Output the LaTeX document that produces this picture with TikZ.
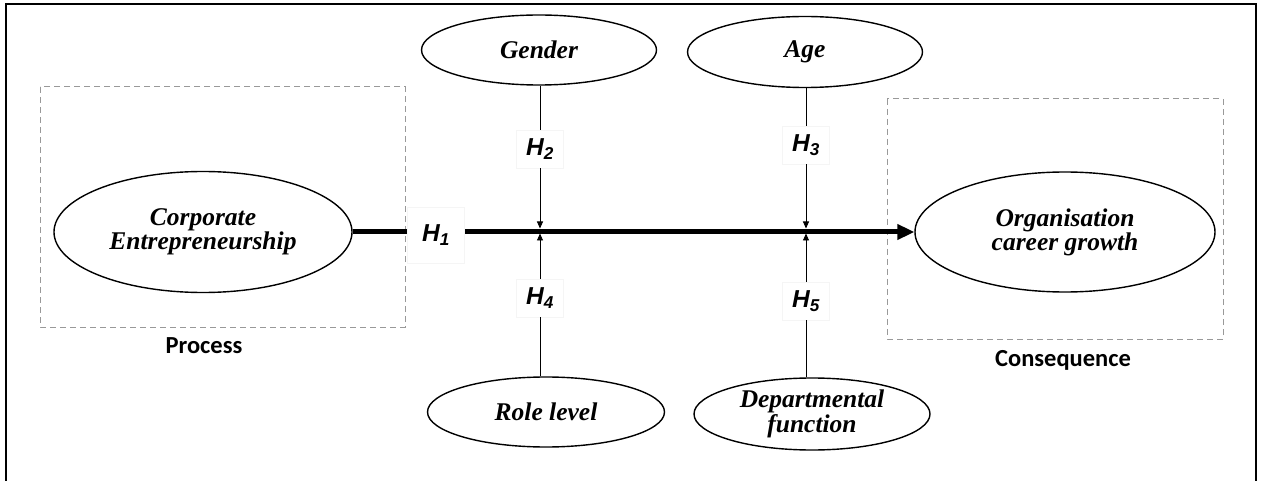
\documentclass[tikz,border=0pt]{standalone}
\usepackage{fontspec}
\setmainfont{Liberation Serif}
\newfontfamily\hfont{Liberation Sans}
\newfontfamily\lblfont{Carlito}
\usetikzlibrary{arrows.meta,shapes.geometric}
\begin{document}
\begin{tikzpicture}[x=1pt,y=-1pt,
  var/.style={ellipse, draw, line width=1.4pt, inner sep=0pt, align=center,
    font=\fontsize{25.5}{22}\selectfont\bfseries\itshape},
  hyp/.style={fill=white, draw=black!4, line width=0.5pt, inner sep=1pt,
    minimum width=47pt, minimum height=38pt,
    font=\fontsize{24.5}{26}\selectfont\hfont\bfseries\itshape},
  grp/.style={draw=black!40, dash pattern=on 6pt off 4pt, line width=1pt},
  glbl/.style={font=\fontsize{24.5}{26}\selectfont\lblfont\bfseries},
  mod/.style={line width=0.9pt, -{Triangle[length=7pt,width=6pt]}},
  link/.style={line width=0.9pt},
]
\useasboundingbox (0,0) rectangle (1264,481);
% outer frame
\draw[line width=2pt] (6,4) rectangle (1256,495);
% groups
\draw[grp] (40,87) rectangle (405,327);
\draw[grp] (887,99) rectangle (1223,339);
\node[glbl] (proc) at (204,346) {Process};
\node[glbl] (cons) at (1063,360) {Consequence};
% variables
\node[var, minimum width=298pt, minimum height=121pt] (ce) at (203,232) {Corporate\\Entrepreneurship};
\node[var, minimum width=300pt, minimum height=120pt] (ocg) at (1065,232) {Organisation\\career growth};
\node[var, minimum width=235pt, minimum height=70pt] (gender) at (539,50) {Gender};
\node[var, minimum width=235pt, minimum height=71pt] (age) at (805,52) {Age};
\node[var, minimum width=237pt, minimum height=70pt] (role) at (546,412) {Role level};
\node[var, minimum width=236pt, minimum height=72pt] (dept) at (812,414) {Departmental\\function};
% junctions
\coordinate (j2) at (540,231);
\coordinate (j3) at (806,231);
% main path
\draw[line width=5pt, -{Triangle[length=17pt,width=15pt]}] (ce.east) -- (ocg.west);
\node[hyp, minimum width=57pt, minimum height=56pt] (h1) at (436,235) {H\textsubscript{1}};
% moderators
\node[hyp] (h2) at (540,149) {H\textsubscript{2}};
\node[hyp] (h3) at (806,145) {H\textsubscript{3}};
\node[hyp] (h4) at (540,298) {H\textsubscript{4}};
\node[hyp] (h5) at (806,301) {H\textsubscript{5}};
\draw[link] (j2 |- gender.south) -- (h2.north);
\draw[mod, shorten >=2.5pt] (h2.south) -- (j2);
\draw[link] (j3 |- age.south) -- (h3.north);
\draw[mod, shorten >=2.5pt] (h3.south) -- (j3);
\draw[link] (j2 |- role.north) -- (h4.south);
\draw[mod, shorten >=2.5pt] (h4.north) -- (j2);
\draw[link] (j3 |- dept.north) -- (h5.south);
\draw[mod, shorten >=2.5pt] (h5.north) -- (j3);
\end{tikzpicture}
\end{document}
